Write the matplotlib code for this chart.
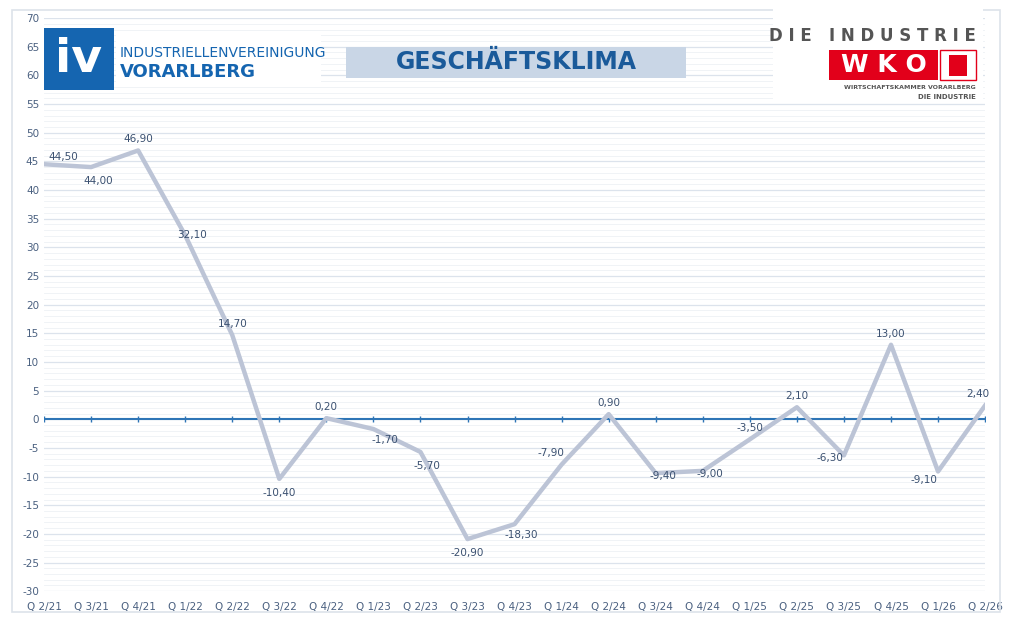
import numpy as np
import matplotlib.pyplot as plt
from matplotlib.patches import Rectangle

plt.rcParams["axes.unicode_minus"] = False

quarters = ["Q 2/21", "Q 3/21", "Q 4/21", "Q 1/22", "Q 2/22", "Q 3/22", "Q 4/22",
            "Q 1/23", "Q 2/23", "Q 3/23", "Q 4/23", "Q 1/24", "Q 2/24", "Q 3/24",
            "Q 4/24", "Q 1/25", "Q 2/25", "Q 3/25", "Q 4/25", "Q 1/26", "Q 2/26"]
values = [44.5, 44.0, 46.9, 32.1, 14.7, -10.4, 0.2, -1.7, -5.7, -20.9, -18.3,
          -7.9, 0.9, -9.4, -9.0, -3.5, 2.1, -6.3, 13.0, -9.1, 2.4]
# label offsets in points (dx, dy)
offsets = [(14, 5), (5, -10), (0, 8), (5, 0), (0, 8), (0, -10), (0, 8), (8, -8),
           (5, -10), (0, -10), (5, -8), (-8, 8), (0, 8), (5, -2), (5, -2),
           (0, 8), (0, 8), (-10, -2), (0, 8), (-10, -6), (-5, 8)]

fig = plt.figure(figsize=(10.24, 6.23), dpi=100)
fig.patches.append(Rectangle((0.012, 0.018), 0.965, 0.966, transform=fig.transFigure,
                             fill=False, edgecolor="#dde3ea", linewidth=1.2))
ax = fig.add_axes([0.043, 0.051, 0.919, 0.920])
x = np.arange(len(quarters))
ax.plot(x, values, color="#bcc4d6", linewidth=3.2, solid_joinstyle="round", zorder=3)
for xi, v, (dx, dy) in zip(x, values, offsets):
    ax.annotate(f"{v:.2f}".replace(".", ","), (xi, v), xytext=(dx, dy),
                textcoords="offset points", ha="center", va="center",
                fontsize=7.5, color="#3a5070", zorder=4)

ax.set_xlim(0, len(quarters) - 1)
ax.set_ylim(-30, 70)
ax.set_yticks(np.arange(-30, 71, 5))
ax.set_yticks(np.arange(-30, 71, 1), minor=True)
ax.set_xticks(x)
ax.set_xticklabels(quarters)
ax.tick_params(axis="both", labelsize=7.5, labelcolor="#4a6080", length=0, which="both")
ax.tick_params(axis="x", pad=8)
ax.grid(axis="y", which="major", color="#dce3ec", linewidth=0.9)
ax.grid(axis="y", which="minor", color="#eef1f5", linewidth=0.6)
for s in ax.spines.values():
    s.set_visible(False)
ax.axhline(0, color="#2e75b6", linewidth=1.5, zorder=2)
ax.plot(x, np.zeros(len(x)), "|", color="#2e75b6", markersize=5, zorder=2)

# IV logo
fig.patches.append(Rectangle((0.043, 0.855), 0.068, 0.1, transform=fig.transFigure,
                             facecolor="#1565b0", edgecolor="none", zorder=5))
fig.text(0.077, 0.905, "iv", fontsize=34, fontweight="bold", color="white",
         ha="center", va="center", zorder=6)
fig.patches.append(Rectangle((0.113, 0.86), 0.2, 0.09, transform=fig.transFigure,
                             facecolor="white", edgecolor="none", zorder=5))
fig.text(0.117, 0.915, "INDUSTRIELLENVEREINIGUNG", fontsize=10, color="#1565b0", zorder=6, va="center")
fig.text(0.117, 0.885, "VORARLBERG", fontsize=13, fontweight="bold", color="#1565b0", zorder=6, va="center")

# title banner
fig.patches.append(Rectangle((0.338, 0.875), 0.332, 0.05, transform=fig.transFigure,
                             facecolor="#c9d6e6", edgecolor="none", zorder=5))
fig.text(0.504, 0.9, "GESCHÄFTSKLIMA", fontsize=17, fontweight="bold", color="#1a5a9a",
         ha="center", va="center", zorder=6)

# WKO logo
fig.patches.append(Rectangle((0.755, 0.835), 0.205, 0.15, transform=fig.transFigure,
                             facecolor="white", edgecolor="none", zorder=5))
fig.text(0.953, 0.943, "D I E   I N D U S T R I E", fontsize=12, fontweight="bold",
         color="#555555", ha="right", va="center", zorder=6)
fig.patches.append(Rectangle((0.81, 0.872), 0.106, 0.048, transform=fig.transFigure,
                             facecolor="#e2001a", edgecolor="none", zorder=6))
fig.text(0.863, 0.896, "W K O", fontsize=18, fontweight="bold", color="white",
         ha="center", va="center", zorder=7)
fig.patches.append(Rectangle((0.918, 0.872), 0.035, 0.048, transform=fig.transFigure,
                             facecolor="white", edgecolor="#e2001a", linewidth=1, zorder=6))
fig.patches.append(Rectangle((0.927, 0.878), 0.017, 0.034, transform=fig.transFigure,
                             facecolor="#e2001a", edgecolor="none", zorder=7))
fig.text(0.953, 0.86, "WIRTSCHAFTSKAMMER VORARLBERG", fontsize=4.5, fontweight="bold",
         color="#555555", ha="right", va="center", zorder=7)
fig.text(0.953, 0.845, "DIE INDUSTRIE", fontsize=5, fontweight="bold",
         color="#555555", ha="right", va="center", zorder=7)

fig.savefig("out.png", dpi=100)
